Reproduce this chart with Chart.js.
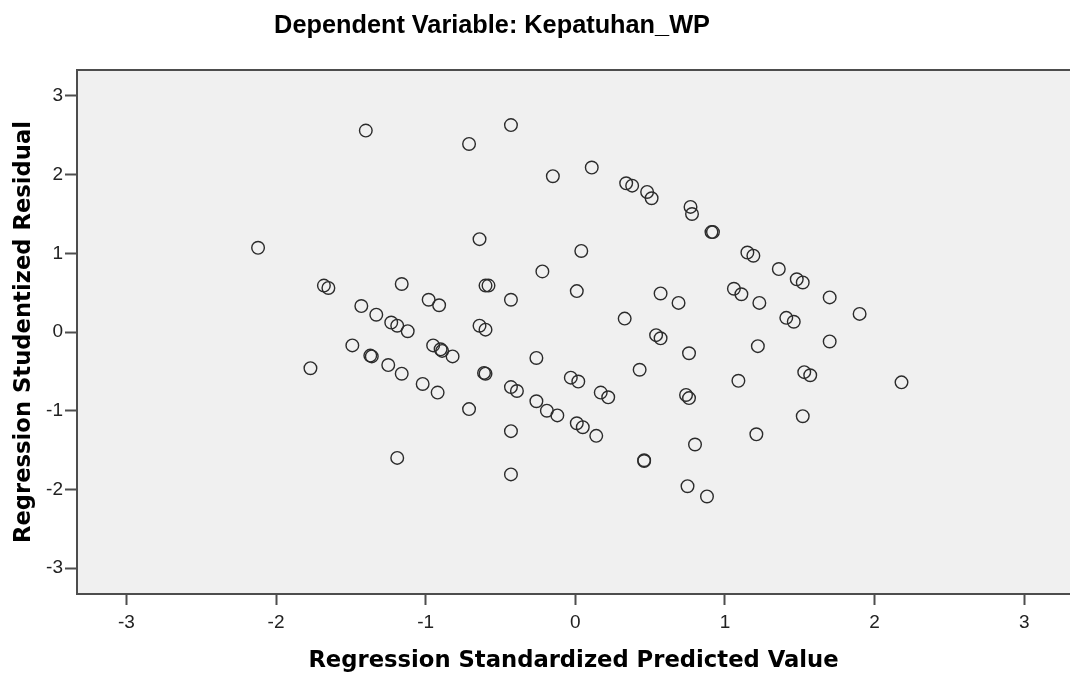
<!DOCTYPE html>
<html>
<head>
<meta charset="utf-8">
<script src="https://cdn.jsdelivr.net/npm/chart.js@4"></script>
<style>
  body { margin: 0; background: #ffffff; }
  #wrap { width: 1070px; height: 679px; position: relative; }
</style>
</head>
<body>
<div id="wrap"><canvas id="residChart"></canvas></div>
<script>
// Regression Standardized Predicted Value (x)
const predicted = [
  -1.40, -0.71, -0.43, -0.15, 0.11, 0.34, 0.38, -2.12, -0.64, 0.04,
  -0.22, 0.01, 0.33, -1.68, -1.65, -1.16, -0.98, -0.91, -0.60, -0.58,
  -0.43, -1.43, -1.33, -1.23, -1.19, -1.12, -0.64, -0.60, -1.49, -1.37,
  -1.36, -1.77, -1.25, -1.16, -1.02, -0.92, -0.95, -0.90, -0.89, -0.82,
  -0.61, -0.60, -0.71, -0.26, -0.43, -0.39, -0.26, -0.19, -0.12, -0.03,
  0.02, 0.01, 0.05, 0.14, 0.17, 0.22, 0.43, -0.43, -1.19, -0.43,
  0.48, 0.51, 0.77, 0.78, 0.91, 0.92, 1.15, 1.19, 1.36, 1.48,
  1.52, 1.70, 1.90, 0.57, 0.69, 1.06, 1.11, 1.23, 1.41, 1.46,
  0.54, 0.57, 1.70, 1.22, 0.76, 1.09, 1.53, 1.57, 2.18, 0.74,
  0.76, 1.52, 1.21, 0.80, 0.46, 0.46, 0.75, 0.88
];
// Regression Studentized Residual (y)
const residual = [
  2.56, 2.39, 2.63, 1.98, 2.09, 1.89, 1.86, 1.07, 1.18, 1.03,
  0.77, 0.52, 0.17, 0.59, 0.56, 0.61, 0.41, 0.34, 0.59, 0.59,
  0.41, 0.33, 0.22, 0.12, 0.08, 0.01, 0.08, 0.03, -0.17, -0.30,
  -0.31, -0.46, -0.42, -0.53, -0.66, -0.77, -0.17, -0.22, -0.24, -0.31,
  -0.52, -0.53, -0.98, -0.33, -0.70, -0.75, -0.88, -1.00, -1.06, -0.58,
  -0.63, -1.16, -1.21, -1.32, -0.77, -0.83, -0.48, -1.26, -1.60, -1.81,
  1.78, 1.70, 1.59, 1.50, 1.27, 1.27, 1.01, 0.97, 0.80, 0.67,
  0.63, 0.44, 0.23, 0.49, 0.37, 0.55, 0.48, 0.37, 0.18, 0.13,
  -0.04, -0.08, -0.12, -0.18, -0.27, -0.62, -0.51, -0.55, -0.64, -0.80,
  -0.84, -1.07, -1.30, -1.43, -1.64, -1.63, -1.96, -2.09
];
const xTicks = [-3, -2, -1, 0, 1, 2, 3];
const yTicks = [-3, -2, -1, 0, 1, 2, 3];

const chartTitle = "Dependent Variable: Kepatuhan_WP";
const xTitle = "Regression Standardized Predicted Value";
const yTitle = "Regression Studentized Residual";

const frameColor = "#4d4d4d";

// фон области графика, верхняя рамка и заголовок
const framePlugin = {
  id: "frame",
  beforeDraw(chart) {
    const { ctx, chartArea: a } = chart;
    ctx.save();
    ctx.fillStyle = "#f0f0f0";
    ctx.fillRect(a.left, a.top, a.right - a.left, a.bottom - a.top);
    ctx.restore();
  },
  afterDraw(chart) {
    const { ctx, chartArea: a } = chart;
    ctx.save();
    ctx.strokeStyle = frameColor;
    ctx.lineWidth = 2;
    ctx.beginPath();
    ctx.moveTo(a.left - 1, a.top);
    ctx.lineTo(a.right, a.top);
    ctx.stroke();

    ctx.fillStyle = "#000000";
    ctx.font = "bold 25.3px 'Liberation Sans', Arial, sans-serif";
    ctx.textAlign = "center";
    ctx.textBaseline = "alphabetic";
    ctx.fillText(chartTitle, 492, 33);
    ctx.restore();
  },
};

const points = predicted.map((x, i) => ({ x: x, y: residual[i] }));

new Chart(document.getElementById("residChart"), {
  type: "scatter",
  data: {
    datasets: [
      {
        data: points,
        pointStyle: "circle",
        pointRadius: 6.3,
        pointHoverRadius: 6.3,
        pointBorderWidth: 1.4,
        pointBorderColor: "#2b2b2b",
        pointBackgroundColor: "rgba(0,0,0,0)",
      },
    ],
  },
  options: {
    responsive: true,
    maintainAspectRatio: false,
    animation: false,
    layout: {
      autoPadding: false,
      padding: { left: 0, right: 0, top: 70, bottom: 0 },
    },
    plugins: {
      legend: { display: false },
      tooltip: { enabled: false },
      title: { display: false },
    },
    scales: {
      x: {
        type: "linear",
        min: -3.33,
        max: 3.306,
        afterFit(scale) {
          scale.height = 85;
          scale.paddingLeft = 0;
          scale.paddingRight = 0;
        },
        afterBuildTicks(scale) {
          scale.ticks = xTicks.map((v) => ({ value: v }));
        },
        grid: {
          drawOnChartArea: false,
          drawTicks: true,
          tickLength: 11,
          tickWidth: 2,
          tickColor: frameColor,
        },
        border: { display: true, color: frameColor, width: 2 },
        ticks: {
          padding: 6,
          color: "#222222",
          font: { family: "'Liberation Sans', Arial, sans-serif", size: 19 },
          callback: (v) => String(v),
          maxRotation: 0,
        },
        title: {
          display: true,
          text: xTitle,
          color: "#000000",
          font: { family: "'DejaVu Sans', sans-serif", size: 22.7, weight: "bold" },
          padding: { top: 0, bottom: 4 },
        },
      },
      y: {
        type: "linear",
        min: -3.33,
        max: 3.33,
        afterFit(scale) {
          scale.width = 77;
          scale.paddingTop = 0;
          scale.paddingBottom = 0;
        },
        afterBuildTicks(scale) {
          scale.ticks = yTicks.map((v) => ({ value: v }));
        },
        grid: {
          drawOnChartArea: false,
          drawTicks: true,
          tickLength: 12,
          tickWidth: 2,
          tickColor: frameColor,
        },
        border: { display: true, color: frameColor, width: 2 },
        ticks: {
          padding: 2,
          color: "#222222",
          font: { family: "'Liberation Sans', Arial, sans-serif", size: 19 },
          callback: (v) => String(v),
        },
        title: {
          display: true,
          text: yTitle,
          color: "#000000",
          font: { family: "'DejaVu Sans', sans-serif", size: 22.7, weight: "bold" },
          padding: { top: 10.4, bottom: 0 },
        },
      },
    },
  },
  plugins: [framePlugin],
});
</script>
</body>
</html>
